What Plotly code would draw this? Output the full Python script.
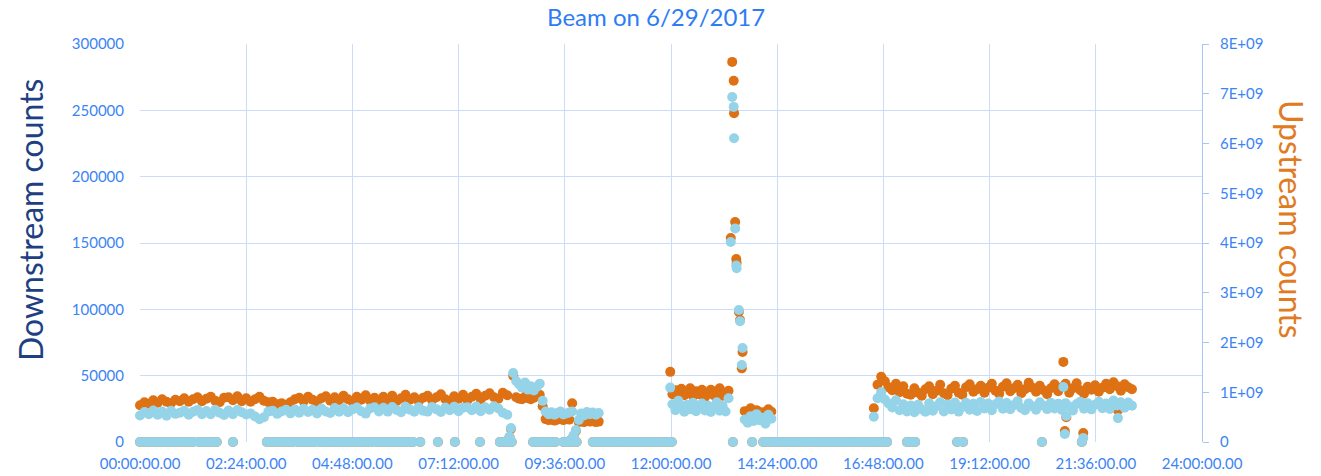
import plotly.graph_objects as go

# ---------------- data (time in minutes after midnight) ----------------
# Segment A: steady beam 00:00 - 08:18
seg_a_min = [0, 6, 12, 18, 24, 30, 36, 42, 48, 54,
             60, 66, 72, 78, 84, 90, 96, 102, 108, 114,
             120, 126, 132, 138, 144, 150, 156, 162, 168, 174,
             180, 186, 192, 198, 204,
             210, 216, 222, 228, 234, 240, 246, 252, 258, 264,
             270, 276, 282, 288, 294, 300, 306, 312, 318, 324,
             330, 336, 342, 348, 354, 360, 366, 372, 378, 384,
             390, 396, 402, 408, 414, 420, 426, 432, 438, 444,
             450, 456, 462, 468, 474, 480, 486, 492, 498]
seg_a_down_k = [20.0, 22.6, 21.0, 23.8, 20.5, 22.9, 19.8, 23.5, 21.2, 22.0,
                23.6, 20.6, 22.8, 24.2, 20.9, 23.4, 21.0, 24.3, 22.1, 20.4,
                23.8, 21.0, 24.1, 22.4, 20.8, 21.5, 19.2, 17.2, 18.6, 22.9,
                23.6, 21.2, 23.0, 24.4, 21.6,
                24.5, 22.0, 25.0, 22.6, 24.4, 21.5, 25.2, 23.0, 21.9, 25.6,
                22.8, 25.4, 22.4, 24.6, 26.0, 23.2, 21.4, 25.3, 26.2, 23.0,
                25.8, 22.9, 26.3, 24.1, 22.5, 26.5, 24.4, 22.8, 26.1, 23.6,
                22.9, 26.4, 24.6, 22.7, 26.0, 24.0, 26.6, 23.2, 25.8, 26.2,
                24.0, 26.8, 23.2, 26.1, 24.4, 27.0, 25.2, 22.0, 20.5]
seg_a_up_e9 = [0.74, 0.80, 0.77, 0.84, 0.79, 0.86, 0.81, 0.78, 0.85, 0.82,
               0.88, 0.81, 0.86, 0.90, 0.82, 0.87, 0.91, 0.83, 0.80, 0.89,
               0.90, 0.84, 0.92, 0.82, 0.88, 0.81, 0.86, 0.91, 0.83, 0.80,
               0.81, 0.76, 0.78, 0.75, 0.80,
               0.86, 0.89, 0.82, 0.91, 0.85, 0.81, 0.88, 0.92, 0.83, 0.90,
               0.84, 0.93, 0.86, 0.81, 0.91, 0.85, 0.94, 0.83, 0.89, 0.82,
               0.91, 0.84, 0.93, 0.82, 0.88, 0.95, 0.85, 0.90, 0.82, 0.89,
               0.93, 0.84, 0.90, 0.96, 0.86, 0.83, 0.92, 0.87, 0.95, 0.84,
               0.91, 0.97, 0.86, 0.93, 0.98, 0.90, 0.87, 0.99, 0.94]

# Segment B: tuning around 08:20 - 10:24
seg_b_min = [501, 503, 506, 510, 514, 518, 522, 526, 530, 534, 538, 542, 546,
             550, 554, 558, 562, 566, 570, 574, 578, 582, 584, 586, 588, 591, 595,
             598, 602, 606, 610, 614, 618, 622]
seg_b_down_k = [4.0, 10.5, 52.0, 46.0, 43.5, 41.0, 44.8, 39.5, 42.0, 38.8, 41.5, 44.0, 31.0,
                23.0, 21.0, 22.4, 20.5, 21.8, 22.9, 20.8, 21.5, 22.2, 1.5, 23.0, 5.0, 9.0, 16.6,
                21.5, 20.0, 22.6, 21.0, 22.2, 20.6, 21.8]
seg_b_up_e9 = [0.10, 0.26, 1.33, 0.90, 0.87, 0.86, 0.91, 0.88, 0.86, 0.89, 0.92, 0.95, 0.72,
               0.46, 0.44, 0.47, 0.43, 0.45, 0.48, 0.44, 0.46, 0.45, 0.04, 0.78, 0.12, 0.22, 0.40,
               0.42, 0.40, 0.43, 0.41, 0.42, 0.40, 0.41]

# Segment C: 12:00 - 13:24 plateau
seg_c_min = [719, 722, 726, 730, 734, 738, 742, 746, 750, 754, 758,
             762, 766, 770, 774, 778, 782, 786, 790, 794, 798]
seg_c_down_k = [41.0, 28.5, 24.0, 31.0, 26.0, 22.8, 28.0, 24.6, 29.5, 23.2, 26.5,
                29.0, 23.8, 27.4, 22.6, 25.8, 30.0, 23.6, 27.2, 23.0, 33.0]
seg_c_up_e9 = [1.41, 0.96, 1.04, 0.90, 1.07, 0.94, 0.99, 1.08, 0.92, 1.02, 0.96,
               1.05, 0.90, 0.98, 1.05, 0.94, 1.01, 1.08, 0.93, 0.99, 1.03]

# Spike near 13:25 and the low plateau after it
seg_s_min = [801, 803, 805, 805.5, 807, 808.5, 809, 812, 813.6, 816, 817,
             820, 824, 828, 832, 836, 840, 844, 848, 852, 856]
seg_s_down_k = [150.7, 260.0, 252.6, 229.0, 161.0, 133.0, 131.0, 99.5, 91.0, 58.0, 70.9,
                17.0, 14.5, 19.5, 15.8, 21.0, 16.5, 18.2, 13.8, 20.5, 17.6]
seg_s_up_e9 = [4.10, 7.64, 7.26, 6.61, 4.42, 3.68, 3.60, 2.62, 2.45, 1.48, 1.81,
               0.62, 0.55, 0.68, 0.58, 0.64, 0.57, 0.60, 0.53, 0.66, 0.61]

# Segment D: 16:35 - 22:25
seg_d_min = [995, 1000, 1005, 1010, 1015, 1020, 1025, 1030, 1035, 1040,
             1045, 1050, 1055, 1060, 1065, 1070, 1075, 1080, 1085, 1090,
             1095, 1100, 1105, 1110, 1115, 1120, 1125, 1130, 1135, 1140,
             1145, 1150, 1155, 1160, 1165, 1170, 1175, 1180, 1185, 1190,
             1195, 1200, 1205, 1210, 1215, 1220, 1225, 1230, 1235, 1240,
             1245, 1250, 1255, 1260, 1265, 1270, 1275, 1280, 1285, 1290,
             1295, 1300, 1305, 1310, 1315, 1320, 1325, 1330, 1335, 1340,
             1345,
             1252, 1254, 1256, 1279, 1326]
seg_d_down_k = [19.0, 33.0, 37.5, 32.0, 29.0, 26.0, 31.5, 24.0, 28.5, 23.0,
                27.5, 22.5, 28.0, 24.5, 22.8, 29.2, 23.6, 27.0, 30.0, 23.0,
                28.2, 24.5, 29.8, 22.9, 26.5, 29.5, 24.3, 28.8, 23.4, 30.2,
                25.3, 29.0, 24.0, 28.4, 30.5, 25.1, 29.4, 24.7, 27.8, 30.8,
                25.6, 23.9, 29.1, 26.9, 24.4, 30.0, 27.3, 24.8, 29.6, 25.2,
                28.9, 24.1, 29.3, 26.7, 23.8, 28.6, 30.3, 25.0, 29.2, 24.6,
                28.1, 30.4, 25.4, 29.0, 24.9, 31.2, 27.5, 30.0, 25.8, 29.7,
                27.4,
                41.5, 6.0, 19.6, 3.0, 18.0]
seg_d_up_e9 = [0.68, 1.15, 1.31, 1.22, 1.10, 1.04, 1.17, 1.00, 1.12, 0.97,
               0.95, 1.08, 0.99, 0.93, 1.06, 1.12, 0.96, 1.03, 1.15, 0.98,
               0.94, 1.07, 1.13, 0.99, 0.95, 1.10, 1.16, 1.01, 1.06, 1.13,
               0.99, 1.09, 1.17, 1.03, 0.97, 1.11, 1.18, 1.02, 1.08, 1.15,
               0.98, 1.06, 1.19, 1.09, 1.01, 1.13, 1.04, 0.96, 1.08, 1.16,
               1.02, 1.10, 1.17, 0.99, 1.08, 1.18, 1.04, 0.97, 1.11, 1.05,
               1.14, 1.01, 1.09, 1.17, 1.06, 1.20, 1.12, 1.03, 1.16, 1.10,
               1.06,
               1.61, 0.22, 0.50, 0.18, 0.64]

# Readings where both counters returned zero
zero_min = [0, 6, 12, 18, 24, 30, 36, 42, 48, 54, 60, 66, 72,
            80, 86, 92, 98, 104,
            126,
            172, 178, 184, 190, 196, 202, 207,
            214, 220, 226, 232, 237,
            244, 250, 256, 262, 268, 274, 280, 286, 292, 296,
            302, 308, 314, 321,
            325, 331, 337, 343,
            348, 354, 360, 366, 370,
            380, 404, 427, 461,
            488, 494, 500, 504,
            533, 539, 545, 551, 557, 563,
            574, 580, 586, 592,
            614, 620, 626, 632, 638, 644, 650, 656, 662, 668, 674, 680,
            686, 692, 698, 704, 710, 716, 721,
            804, 830,
            845, 851, 857, 863, 869, 875, 881, 887, 893, 899, 905, 911, 917,
            923, 929, 935, 941, 947, 953, 959, 965, 971, 977, 983, 989, 995,
            1001, 1007, 1013,
            1040, 1046, 1051,
            1108, 1116,
            1223, 1277]

x_tick_min = [0, 144, 288, 432, 576, 720, 864, 1008, 1152, 1296, 1440]
x_tick_labels = ["00:00:00.00", "02:24:00.00", "04:48:00.00", "07:12:00.00",
                 "09:36:00.00", "12:00:00.00", "14:24:00.00", "16:48:00.00",
                 "19:12:00.00", "21:36:00.00", "24:00:00.00"]
up_tick_vals = [0, 1e9, 2e9, 3e9, 4e9, 5e9, 6e9, 7e9, 8e9]
up_tick_labels = ["0", "1E+09", "2E+09", "3E+09", "4E+09", "5E+09", "6E+09", "7E+09", "8E+09"]

# ---------------- assemble ----------------
on_min = seg_a_min + seg_b_min + seg_c_min + seg_s_min + seg_d_min
down_k = seg_a_down_k + seg_b_down_k + seg_c_down_k + seg_s_down_k + seg_d_down_k
up_e9 = seg_a_up_e9 + seg_b_up_e9 + seg_c_up_e9 + seg_s_up_e9 + seg_d_up_e9

x_all = on_min + zero_min
down_all = [v * 1000 for v in down_k] + [0] * len(zero_min)
up_all = [v * 1e9 for v in up_e9] + [0] * len(zero_min)

BLUE = "#95D3E8"
ORANGE = "#DE7113"
GRID = "#CADCFA"
AXIS = "#A9C5F5"
TICK = "#3C84F5"
TITLE = "#2E7CF4"
FONT = "Lato, 'Open Sans', sans-serif"

fig = go.Figure()
fig.add_trace(go.Scatter(x=x_all, y=up_all, mode="markers", yaxis="y",
                         name="Upstream counts", cliponaxis=False,
                         marker=dict(size=10, color=ORANGE, line=dict(width=0))))
fig.add_trace(go.Scatter(x=x_all, y=down_all, mode="markers", yaxis="y2",
                         name="Downstream counts", cliponaxis=False,
                         marker=dict(size=10, color=BLUE, line=dict(width=0))))

fig.update_layout(
    width=1321, height=476,
    margin=dict(l=140, r=119, t=44, b=34),
    paper_bgcolor="white", plot_bgcolor="white",
    font=dict(family=FONT, size=15, color=TICK),
    showlegend=False,
    title=dict(text="Beam on 6/29/2017", x=0.486, xref="paper", xanchor="center",
               y=0.963, yref="container", yanchor="middle",
               font=dict(family=FONT, size=24, color=TITLE)),
    xaxis=dict(range=[0, 1440], tickmode="array", tickvals=x_tick_min, ticktext=x_tick_labels,
               showgrid=True, gridcolor=GRID, gridwidth=1, zeroline=False, showline=False,
               ticks="outside", ticklen=8, tickcolor="rgba(0,0,0,0)", automargin=False,
               tickfont=dict(family=FONT, size=15, color=TICK)),
    yaxis=dict(side="right", range=[0, 8e9], tickmode="array", tickvals=up_tick_vals,
               ticktext=up_tick_labels, showgrid=False, zeroline=False,
               showline=True, linecolor=AXIS, linewidth=1, automargin=False,
               ticks="outside", ticklen=6, tickcolor=AXIS, ticklabelstandoff=8,
               tickfont=dict(family=FONT, size=15, color=TICK)),
    yaxis2=dict(overlaying="y", side="left", anchor="x", range=[0, 300000], dtick=50000,
                tickformat="d", showgrid=True, gridcolor=GRID, gridwidth=1, zeroline=False,
                showline=False, ticks="outside", ticklen=12, tickcolor="rgba(0,0,0,0)",
                automargin=False,
                tickfont=dict(family=FONT, size=15, color=TICK)),
    annotations=[
        dict(text="Downstream counts", textangle=-90, xref="paper", yref="paper",
             x=-0.1036, y=0.56, xanchor="center", yanchor="middle", showarrow=False,
             font=dict(family=FONT, size=32, color="#1E3F82")),
        dict(text="Upstream counts", textangle=90, xref="paper", yref="paper",
             x=1.0848, y=0.56, xanchor="center", yanchor="middle", showarrow=False,
             font=dict(family=FONT, size=32, color="#E07B22")),
    ],
)

fig.write_html("out.html", config={"displayModeBar": False},
               post_script="document.body.style.margin='0';")
